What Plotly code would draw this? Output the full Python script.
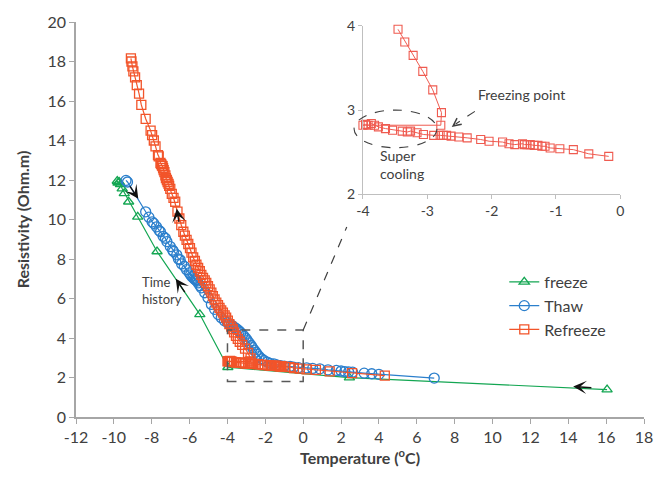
import numpy as np
import plotly.graph_objects as go

# ---------------- data ----------------
freeze_t = [16.05, 2.44, -3.98, -5.46, -7.72, -8.74, -9.22, -9.45, -9.56, -9.65, -9.72, -9.78, -9.82]
freeze_r = [1.39, 1.99, 2.52, 5.20, 8.38, 10.13, 10.90, 11.32, 11.56, 11.78, 11.90, 11.85, 11.95]

thaw_t = [-9.36, -9.28, -8.32, -8.15, -7.98, -7.89, -7.75, -7.62, -7.54, -7.40, -7.28, -7.20,
          -7.02, -6.90, -6.85, -6.68, -6.59, -6.50, -6.42, -6.28, -6.16, -6.02, -5.95, -5.88,
          -5.82, -5.76, -5.70, -5.65, -5.60, -5.55, -5.45, -5.38, -5.20, -5.03, -4.85, -4.68,
          -4.50, -4.33, -4.16, -4.00, -3.90, -3.80, -3.72, -3.64, -3.55, -3.46, -3.38, -3.30,
          -3.20, -3.11, -3.02, -2.95, -2.85, -2.75, -2.68, -2.59, -2.50, -2.42, -2.33, -2.20,
          -2.07, -1.90, -1.75, -1.55, -1.40, -1.20, -1.00, -0.69, -0.51, -0.25, 0.18, 0.50,
          0.88, 1.31, 1.75, 2.00, 2.20, 2.40, 2.61, 3.22, 3.62, 4.00, 6.92]
thaw_r = [11.98, 11.90, 10.39, 10.12, 9.88, 9.80, 9.63, 9.45, 9.38, 9.15, 9.05, 8.88,
          8.63, 8.45, 8.38, 8.21, 8.00, 7.96, 7.75, 7.63, 7.46, 7.30, 7.20, 7.12,
          7.06, 7.00, 6.95, 6.92, 6.88, 6.79, 6.65, 6.54, 6.29, 6.04, 5.70, 5.45,
          5.20, 5.03, 4.87, 4.78, 4.72, 4.66, 4.60, 4.55, 4.48, 4.42, 4.35, 4.27,
          4.18, 4.08, 3.97, 3.87, 3.75, 3.62, 3.51, 3.39, 3.28, 3.17, 3.06, 2.95,
          2.86, 2.78, 2.72, 2.69, 2.64, 2.60, 2.58, 2.56, 2.52, 2.50, 2.49, 2.46,
          2.44, 2.39, 2.36, 2.33, 2.30, 2.28, 2.27, 2.22, 2.19, 2.16, 1.97]

refreeze_t = [4.31, 2.58, 1.40, 0.67, 0.18,
              -0.18, -0.49, -0.73, -0.94, -1.09, -1.17, -1.22, -1.28, -1.34, -1.40, -1.45, -1.49,
              -1.52, -1.64, -1.73, -1.83, -2.04, -2.17, -2.38, -2.51, -2.63, -2.70, -2.75, -2.80,
              -2.90, -3.06, -3.16, -3.26, -3.31, -3.39, -3.54, -3.65, -3.76, -3.82, -3.87, -3.92,
              -3.96, -4.00,
              -2.79, -2.78, -2.915, -3.07, -3.22, -3.35, -3.455,
              -3.55, -3.65, -3.72, -3.80, -3.90, -3.98, -4.07, -4.15, -4.24, -4.33, -4.42, -4.50,
              -4.59, -4.68, -4.77, -4.85, -4.94, -5.03, -5.12, -5.20, -5.29, -5.38, -5.46, -5.55,
              -5.64, -5.72, -5.81, -5.90, -5.98, -6.07, -6.16, -6.25, -6.33, -6.44, -6.54, -6.64,
              -6.76, -6.85, -6.94, -7.02, -7.08, -7.11, -7.16, -7.20, -7.25, -7.28, -7.33, -7.37,
              -7.40, -7.43, -7.46, -7.50, -7.54, -7.63, -7.67, -7.80, -7.89, -7.98, -8.06, -8.32,
              -8.55, -8.67, -8.79, -8.88, -8.97, -9.02, -9.07, -9.10]
refreeze_r = [2.09, 2.22, 2.31, 2.39, 2.41,
              2.45, 2.48, 2.53, 2.54, 2.55, 2.57, 2.57, 2.58, 2.58, 2.59, 2.59, 2.59,
              2.60, 2.59, 2.60, 2.62, 2.63, 2.65, 2.67, 2.68, 2.69, 2.70, 2.70, 2.70,
              2.70, 2.71, 2.73, 2.75, 2.74, 2.75, 2.76, 2.78, 2.80, 2.82, 2.84, 2.82,
              2.83, 2.82,
              2.82, 2.97, 3.24, 3.46, 3.65, 3.81, 3.96,
              4.11, 4.28, 4.45, 4.58, 4.70, 4.88, 5.03, 5.15, 5.28, 5.40, 5.53, 5.66,
              5.79, 5.95, 6.12, 6.30, 6.46, 6.62, 6.79, 6.92, 7.04, 7.20, 7.38, 7.55,
              7.71, 7.90, 8.08, 8.32, 8.55, 8.76, 8.97, 9.18, 9.38, 9.72, 10.05, 10.40,
              10.90, 11.10, 11.30, 11.55, 11.70, 11.80, 11.90, 12.00, 12.10, 12.23, 12.40, 12.50,
              12.60, 12.70, 12.73, 12.80, 12.86, 13.20, 13.26, 13.70, 14.00, 14.27, 14.50, 15.10,
              15.80, 16.37, 16.80, 17.20, 17.50, 17.75, 18.00, 18.16]

x_ticks = list(range(-12, 19, 2))
y_ticks = list(range(0, 21, 2))
inset_x_ticks = [-4, -3, -2, -1, 0]
inset_y_ticks = [2, 3, 4]

# ---------------- styling ----------------
FONT = "Lato"
TXT = "#404040"
AX = "#a6a6a6"
GREEN = "#13a652"
BLUE = "#2b7fcc"
ORANGE = "#f2542a"
INSET_RED = "#ef5b50"

fig = go.Figure()

fig.add_trace(go.Scatter(
    x=freeze_t, y=freeze_r, mode="lines+markers", name="freeze", legendgroup="a",
    line=dict(color=GREEN, width=1.2),
    marker=dict(symbol="triangle-up-open", size=9, color=GREEN, line=dict(width=1.3)),
))
fig.add_trace(go.Scatter(
    x=thaw_t, y=thaw_r, mode="lines+markers", name="Thaw", legendgroup="b",
    line=dict(color=BLUE, width=1.2),
    marker=dict(symbol="circle-open", size=10, color=BLUE, line=dict(width=1.3)),
))
fig.add_trace(go.Scatter(
    x=refreeze_t, y=refreeze_r, mode="lines+markers", name="Refreeze", legendgroup="c",
    line=dict(color=ORANGE, width=1.2),
    marker=dict(symbol="square-open", size=9, color=ORANGE, line=dict(width=1.3)),
))

# inset: the same refreeze series, restricted to the inset window
rt = np.array(refreeze_t)
rr = np.array(refreeze_r)
mask = (rt >= -4.0) & (rt <= 0.0) & (rr >= 2.0) & (rr <= 4.0)
fig.add_trace(go.Scatter(
    x=rt[mask], y=rr[mask], mode="lines+markers", name="Refreeze (inset)",
    showlegend=False, xaxis="x2", yaxis="y2", cliponaxis=False,
    line=dict(color=INSET_RED, width=1),
    marker=dict(symbol="square-open", size=8, color=INSET_RED, line=dict(width=1.1)),
))


def labels(vals):
    return [str(v) for v in vals]   # plain hyphen minus, as in the reference


axis_common = dict(
    showgrid=False, zeroline=False, showline=True, linecolor=AX, linewidth=1.5,
    ticks="outside", tickcolor=AX, ticklen=5, tickwidth=1.2,
    tickfont=dict(family=FONT, size=16, color=TXT),
)
inset_common = dict(
    showgrid=False, zeroline=False, showline=True, linecolor="#bfbfbf", linewidth=1.2,
    ticks="outside", tickcolor="#bfbfbf", ticklen=4,
    tickfont=dict(family=FONT, size=14, color=TXT),
)

fig.update_layout(
    width=665, height=480,
    margin=dict(l=76, r=13, t=18, b=63),
    paper_bgcolor="white", plot_bgcolor="white",
    font=dict(family=FONT, color=TXT),
    xaxis=dict(range=[-12, 18], tickvals=x_ticks, ticktext=labels(x_ticks), **axis_common,
               title=dict(text="<b>Temperature (<sup>o</sup>C)</b>",
                          font=dict(family=FONT, size=16, color=TXT), standoff=8)),
    yaxis=dict(range=[0, 20], tickvals=y_ticks, ticktext=labels(y_ticks), **axis_common,
               title=dict(text="<b>Resistivity (Ohm.m)</b>",
                          font=dict(family=FONT, size=16, color=TXT), standoff=14)),
    xaxis2=dict(domain=[0.5052, 0.9583], anchor="y2", range=[-4, 0],
                tickvals=inset_x_ticks, ticktext=labels(inset_x_ticks), **inset_common),
    yaxis2=dict(domain=[0.564, 0.990], anchor="x2", range=[2, 4],
                tickvals=inset_y_ticks, ticktext=labels(inset_y_ticks), **inset_common),
    legend=dict(x=0.754, y=0.385, xanchor="left", yanchor="top",
                bgcolor="rgba(0,0,0,0)", font=dict(family=FONT, size=16, color=TXT),
                traceorder="normal", tracegroupgap=4, itemwidth=30),
    showlegend=True,
)

# dashed zoom box and connector
fig.add_shape(type="rect", x0=-4, x1=0, y0=1.8, y1=4.4, xref="x", yref="y",
              line=dict(color="#595959", width=1.5, dash="dash"))
fig.add_shape(type="line", x0=0, y0=4.4, x1=2.3, y1=9.62, xref="x", yref="y",
              line=dict(color="#404040", width=1.2, dash="dash"))
fig.add_annotation(x=2.37, y=9.78, ax=2.28, ay=9.58, xref="x", yref="y",
                   axref="x", ayref="y", text="", showarrow=True,
                   arrowhead=5, arrowsize=1.4, arrowwidth=1.1, arrowcolor="#404040")

# black direction arrows
for hx, hy, tx, ty in [(-6.73, 7.0, -6.2, 6.25), (-8.71, 11.05, -9.2, 11.75),
                       (-6.68, 10.55, -6.55, 9.8), (14.26, 1.54, 15.3, 1.48)]:
    fig.add_annotation(x=hx, y=hy, ax=tx, ay=ty, xref="x", yref="y", axref="x", ayref="y",
                       text="", showarrow=True, arrowhead=3, arrowsize=1.6,
                       arrowwidth=1.4, arrowcolor="#111111")

fig.add_annotation(x=-8.6, y=6.4, xref="x", yref="y", text="Time<br>history",
                   showarrow=False, xanchor="left", align="left",
                   font=dict(family=FONT, size=13, color=TXT))

# inset annotations
fig.add_annotation(x=-2.24, y=3.18, xref="x2", yref="y2", text="Freezing point",
                   showarrow=False, xanchor="left",
                   font=dict(family=FONT, size=14, color=TXT))
fig.add_shape(type="line", x0=-2.26, y0=2.985, x1=-2.56, y1=2.835, xref="x2", yref="y2",
              line=dict(color="#404040", width=1.1, dash="dash"))
fig.add_annotation(x=-2.62, y=2.80, ax=-2.55, ay=2.84, xref="x2", yref="y2",
                   axref="x2", ayref="y2", text="", showarrow=True,
                   arrowhead=5, arrowsize=1.4, arrowwidth=1.1, arrowcolor="#404040")
fig.add_annotation(x=-3.76, y=2.35, xref="x2", yref="y2", text="Super<br>cooling",
                   showarrow=False, xanchor="left", align="left",
                   font=dict(family=FONT, size=14, color=TXT))
fig.add_shape(type="circle", x0=0.4896, x1=0.6354, y0=0.6817, y1=0.777,
              xref="paper", yref="paper",
              line=dict(color="#404040", width=1.1, dash="dash"))

fig.write_html("out.html")
